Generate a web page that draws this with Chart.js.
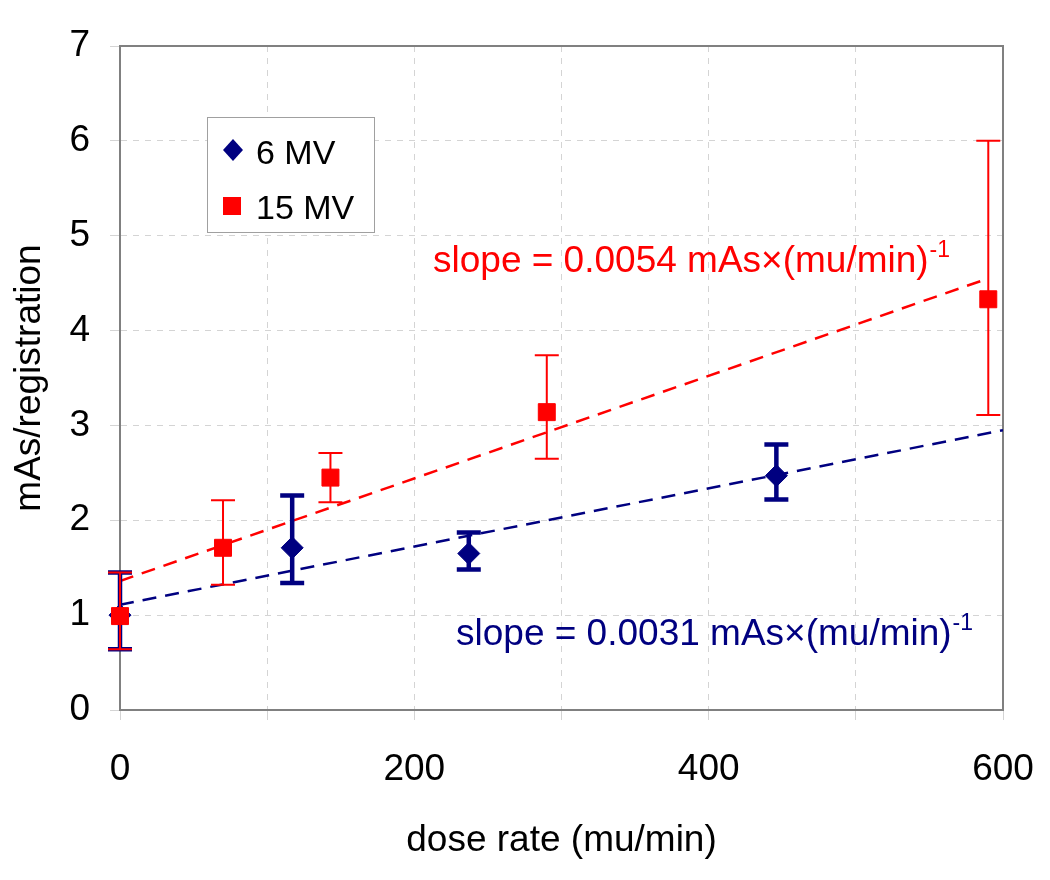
<!DOCTYPE html>
<html>
<head>
<meta charset="utf-8">
<script src="https://cdn.jsdelivr.net/npm/chart.js@4.4.1/dist/chart.umd.min.js"></script>
<style>
  body { margin: 0; background: #fff; }
  #wrap { width: 1050px; height: 880px; }
</style>
</head>
<body>
<div id="wrap"><canvas id="c" width="1050" height="880"></canvas></div>
<script>
const mv6X = [0, 117, 237, 446];
const mv6Y = [1.00, 1.71, 1.65, 2.47];
const mv6Lo = [0.64, 1.34, 1.48, 2.22];
const mv6Hi = [1.45, 2.26, 1.87, 2.80];

const mv15X = [0, 70, 143, 290, 590];
const mv15Y = [0.99, 1.71, 2.45, 3.14, 4.33];
const mv15Lo = [0.64, 1.32, 2.19, 2.65, 3.11];
const mv15Hi = [1.45, 2.21, 2.71, 3.74, 6.00];

// linear fit lines (end points)
const fit6X = [0, 600];
const fit6Y = [1.11, 2.95];
const fit15X = [0, 590];
const fit15Y = [1.36, 4.55];

const xTicks = [0, 200, 400, 600];
const seriesNames = ['6 MV', '15 MV'];
const slopeTexts = ['slope = 0.0031 mAs\u00d7(mu/min)', 'slope = 0.0054 mAs\u00d7(mu/min)'];

const NAVY = '#000080';
const RED = '#ff0000';
const FONT = "'Liberation Sans', Arial, sans-serif";

function pts(xs, ys) {
    return xs.map(function (x, i) { return {x: x, y: ys[i]}; });
}

// error bars, drawn just before the points of each dataset
const errorBars = {
    id: 'errorBars',
    beforeDatasetDraw(chart, args) {
        const ds = chart.data.datasets[args.index];
        if (!ds.errLo) return;
        const ctx = chart.ctx;
        const xs = chart.scales.x, ys = chart.scales.y;
        ctx.save();
        ctx.strokeStyle = ds.borderColor;
        ctx.lineWidth = ds.errWidth;
        ctx.lineCap = 'butt';
        ds.data.forEach(function (p, i) {
            const px = xs.getPixelForValue(p.x);
            const top = ys.getPixelForValue(ds.errHi[i]);
            const bot = ys.getPixelForValue(ds.errLo[i]);
            const w = ds.capWidth / 2;
            ctx.beginPath();
            ctx.moveTo(px, top); ctx.lineTo(px, bot);
            ctx.moveTo(px - w, top); ctx.lineTo(px + w, top);
            ctx.moveTo(px - w, bot); ctx.lineTo(px + w, bot);
            ctx.stroke();
        });
        ctx.restore();
    }
};

// frame, legend box, slope labels
const extras = {
    id: 'extras',
    beforeDatasetsDraw(chart) {
        const ctx = chart.ctx;
        const a = chart.chartArea;
        ctx.save();
        ctx.strokeStyle = '#808080';
        ctx.lineWidth = 2;
        ctx.strokeRect(a.left, a.top, a.right - a.left, a.bottom - a.top);
        ctx.restore();
    },
    afterDraw(chart) {
        const ctx = chart.ctx;
        ctx.save();
        // legend
        ctx.fillStyle = '#ffffff';
        ctx.fillRect(207, 117, 167, 115);
        ctx.strokeStyle = '#a0a0a0';
        ctx.lineWidth = 1;
        ctx.strokeRect(207.5, 117.5, 167, 115);
        ctx.fillStyle = NAVY;
        ctx.beginPath();
        ctx.moveTo(233, 139); ctx.lineTo(243, 150); ctx.lineTo(233, 161); ctx.lineTo(223, 150);
        ctx.closePath(); ctx.fill();
        ctx.fillStyle = RED;
        ctx.fillRect(223, 197, 18, 18);
        ctx.fillStyle = '#000';
        ctx.font = '34px ' + FONT;
        ctx.textBaseline = 'alphabetic';
        ctx.fillText(seriesNames[0], 256, 164);
        ctx.fillText(seriesNames[1], 256, 219);

        // slope labels with superscript
        function slope(text, x, y, color) {
            ctx.fillStyle = color;
            ctx.font = '37px ' + FONT;
            ctx.fillText(text, x, y);
            const w = ctx.measureText(text).width;
            ctx.font = '23px ' + FONT;
            ctx.fillText('-1', x + w + 1, y - 15);
        }
        slope(slopeTexts[1], 433, 272, RED);
        slope(slopeTexts[0], 456, 645, NAVY);
        ctx.restore();
    }
};

const config = {
    type: 'scatter',
    data: {
        datasets: [
            {
                label: seriesNames[1],
                data: pts(mv15X, mv15Y),
                errLo: mv15Lo, errHi: mv15Hi, errWidth: 2, capWidth: 24,
                borderColor: RED, backgroundColor: RED,
                pointStyle: 'rect', pointRadius: 12, pointHoverRadius: 12,
                clip: false, order: 1
            },
            {
                label: seriesNames[0],
                data: pts(mv6X, mv6Y),
                errLo: mv6Lo, errHi: mv6Hi, errWidth: 4.5, capWidth: 24,
                borderColor: NAVY, backgroundColor: NAVY,
                pointStyle: 'rectRot', pointRadius: 11, pointHoverRadius: 11,
                clip: false, order: 2
            },
            {
                label: 'fit 15',
                data: pts(fit15X, fit15Y),
                showLine: true, borderColor: RED, borderWidth: 2.5,
                borderDash: [14, 9], pointRadius: 0, order: 3
            },
            {
                label: 'fit 6',
                data: pts(fit6X, fit6Y),
                showLine: true, borderColor: NAVY, borderWidth: 2.5,
                borderDash: [14, 9], pointRadius: 0, order: 4
            }
        ]
    },
    options: {
        responsive: false,
        animation: false,
        layout: { padding: { top: 46, right: 47, left: 0, bottom: 0 } },
        plugins: { legend: { display: false }, tooltip: { enabled: false } },
        scales: {
            x: {
                type: 'linear', min: 0, max: 600,
                afterFit: function (s) { s.height = 170; s.paddingLeft = 0; s.paddingRight = 0; },
                ticks: {
                    stepSize: 100, color: '#000', padding: 28, maxRotation: 0,
                    font: { family: FONT, size: 37 },
                    callback: function (v) { return xTicks.indexOf(v) >= 0 ? String(v) : ''; }
                },
                grid: { color: '#d4d4d4', lineWidth: 1, tickLength: 10 },
                border: { color: '#808080', width: 2, dash: [6, 6] },
                title: {
                    display: true, text: 'dose rate (mu/min)', color: '#000',
                    font: { family: FONT, size: 37 }, padding: { top: 0, bottom: 17 }
                }
            },
            y: {
                min: 0, max: 7,
                afterFit: function (s) { s.width = 120; s.paddingTop = 0; s.paddingBottom = 0; },
                ticks: {
                    stepSize: 1, color: '#000', padding: 20,
                    font: { family: FONT, size: 37 }
                },
                grid: { color: '#d4d4d4', lineWidth: 1, tickLength: 10 },
                border: { color: '#808080', width: 2, dash: [6, 6] },
                title: {
                    display: true, text: 'mAs/registration', color: '#000',
                    font: { family: FONT, size: 37 }, padding: { top: 8, bottom: 0 }
                }
            }
        }
    },
    plugins: [errorBars, extras]
};

new Chart(document.getElementById('c'), config);
</script>
</body>
</html>
